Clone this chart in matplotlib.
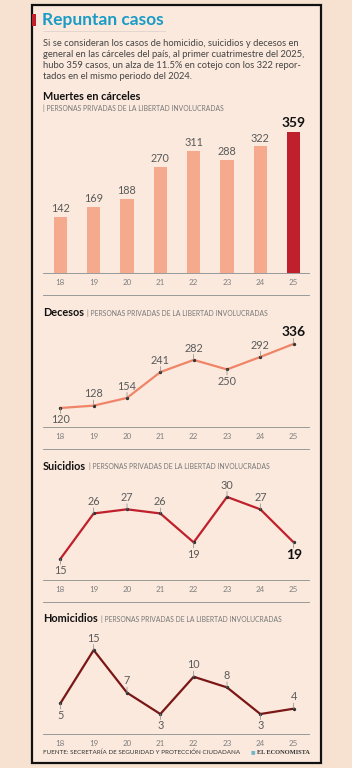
import matplotlib.pyplot as plt
from matplotlib.patches import Rectangle
from matplotlib.lines import Line2D

years = ['18', '19', '20', '21', '22', '23', '24', '25']
muertes = [142, 169, 188, 270, 311, 288, 322, 359]
decesos = [120, 128, 154, 241, 282, 250, 292, 336]
suicidios = [15, 26, 27, 26, 19, 30, 27, 19]
homicidios = [5, 15, 7, 3, 10, 8, 3, 4]

# label above (True) or below (False) each point
decesos_up = [False, True, True, True, True, False, True, True]
suicidios_up = [False, True, True, True, False, True, True, False]
homicidios_up = [False, True, True, False, True, True, False, True]

W, H = 352, 768
BG_OUT = '#f7e2d2'
BG_IN = '#fbe9dd'
GRAY = '#5a5a5a'
plt.rcParams['font.family'] = ['Lato', 'DejaVu Sans']

fig = plt.figure(figsize=(W / 100, H / 100), dpi=100, facecolor=BG_OUT)
renderer = fig.canvas.get_renderer()


def fx(px):
    return px / W


def fy(py):
    return 1 - py / H


def txt(px, py, s, **kw):
    return fig.text(fx(px), fy(py), s, **kw)


def hline(py, x0=43, x1=309, color='#9a9a9a', lw=0.7):
    fig.add_artist(Line2D([fx(x0), fx(x1)], [fy(py), fy(py)], color=color, lw=lw))


# outer box
fig.add_artist(Rectangle((fx(32), fy(763)), fx(321) - fx(32), fy(5) - fy(763),
                         facecolor=BG_IN, edgecolor='#111111', lw=1.6, zorder=-5))
fig.add_artist(Rectangle((fx(32), fy(26)), fx(36) - fx(32), fy(14) - fy(26),
                         facecolor='#c0202b', edgecolor='none'))

txt(42, 20, 'Repuntan casos', fontsize=12.5, fontweight='bold', color='#1b9bc6', va='center')
hline(31, 43, 165, color='#d8cfc8', lw=0.5)

para = ['Si se consideran los casos de homicidio, suicidios y decesos en',
        'general en las cárceles del país, al primer cuatrimestre del 2025,',
        'hubo 359 casos, un alza de 11.5% en cotejo con los 322 repor-',
        'tados en el mismo periodo del 2024.']
for i, line in enumerate(para):
    txt(43, 43 + i * 11.3, line, fontsize=6.75, color='#444444', va='center')

sub = '| PERSONAS PRIVADAS DE LA LIBERTAD INVOLUCRADAS'


def section_title(py, title, inline=True):
    t = txt(43, py, title, fontsize=7.8, fontweight='bold', color='#111111', va='center')
    if inline:
        bb = t.get_window_extent(renderer)
        txt(bb.x1 + 3, py, sub, fontsize=4.9, color='#777777', va='center')
    else:
        txt(43, py + 12, sub, fontsize=4.9, color='#777777', va='center')


section_title(96, 'Muertes en cárceles', inline=False)


def make_ax(top, bottom, ylo, yhi):
    ax = fig.add_axes([fx(43), fy(bottom), fx(309) - fx(43), fy(top) - fy(bottom)])
    ax.set_facecolor('none')
    ax.set_xlim(-0.52, 7.46)
    ax.set_ylim(ylo, yhi)
    for s in ['top', 'right', 'left']:
        ax.spines[s].set_visible(False)
    ax.spines['bottom'].set_color('#9a9a9a')
    ax.spines['bottom'].set_linewidth(0.7)
    ax.set_yticks([])
    ax.set_xticks(range(len(years)))
    ax.set_xticklabels(years, fontsize=5.8, color='#808080')
    ax.tick_params(axis='x', length=0, pad=4)
    return ax


# bars
ax = make_ax(120, 273, 0, 389)
colors = ['#f5aa8e'] * 7 + ['#c0202b']
ax.bar(range(len(years)), muertes, width=0.4, color=colors)
for i, v in enumerate(muertes):
    if i == len(muertes) - 1:
        ax.annotate(str(v), (i, v), xytext=(0, 2), textcoords='offset points',
                    ha='center', va='bottom', fontsize=10, fontweight='bold', color='#111111')
    else:
        ax.annotate(str(v), (i, v), xytext=(0, 2), textcoords='offset points',
                    ha='center', va='bottom', fontsize=7.8, color=GRAY)

hline(295)


def line_chart(ax, vals, ups, color, bold_last):
    x = range(len(vals))
    ax.plot(x, vals, color=color, lw=1.6, solid_joinstyle='miter', zorder=2)
    ax.scatter(x, vals, s=2, color='#333333', zorder=3)
    for i, v in enumerate(vals):
        d = 1 if ups[i] else -1
        # short tick between point and label
        ax.annotate('', xy=(i, v), xytext=(0, d * 4), textcoords='offset points',
                    arrowprops=dict(arrowstyle='-', color='#888888', lw=0.5,
                                    shrinkA=0, shrinkB=0))
        last = bold_last and i == len(vals) - 1
        ax.annotate(str(v), (i, v), xytext=(0, d * 4.5), textcoords='offset points',
                    ha='center', va='bottom' if ups[i] else 'top',
                    fontsize=10 if last else 7.8,
                    fontweight='bold' if last else 'normal',
                    color='#111111' if last else GRAY)


section_title(313, 'Decesos')
ax = make_ax(335, 427, 56, 366)
line_chart(ax, decesos, decesos_up, '#f08468', True)

hline(449)

section_title(466, 'Suicidios')
ax = make_ax(487, 580, 9.9, 32.4)
line_chart(ax, suicidios, suicidios_up, '#c0202b', True)

hline(602)

section_title(619, 'Homicidios')
ax = make_ax(640, 734, -0.75, 16.9)
line_chart(ax, homicidios, homicidios_up, '#7a1616', False)

txt(43, 752, 'FUENTE: SECRETARÍA DE SEGURIDAD Y PROTECCIÓN CIUDADANA', fontsize=4.5,
    color='#333333', va='center')
txt(310, 752, 'EL ECONOMISTA', fontsize=4.6, fontweight='bold', color='#333333',
    va='center', ha='right', family='Liberation Serif')
txt(255, 752, '■', fontsize=3.5, color='#6fb7c8', va='center', ha='right')

fig.savefig('out.png', dpi=100, facecolor=BG_OUT)
